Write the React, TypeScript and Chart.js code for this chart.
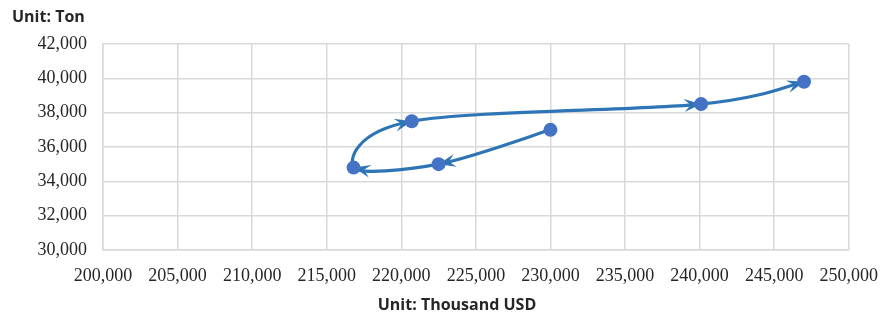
import React, { useEffect, useRef } from "react";
import { Chart, registerables } from "chart.js";

Chart.register(...registerables);

const valuesUSD = [230000, 222500, 216800, 220700, 240100, 247000];
const volumesTon = [37000, 35000, 34800, 37500, 38500, 39800];
const yTitle = "Unit: Ton";
const xTitle = "Unit: Thousand USD";

const LINE = "#2E75B6";
const MARK = "#4472C4";

function bez(a: number, b: number, c: number, d: number, t: number) {
  const u = 1 - t;
  return u * u * u * a + 3 * u * u * t * b + 3 * u * t * t * c + t * t * t * d;
}

const smoothPlugin = {
  id: "excelSmooth",
  beforeDatasetsDraw(chart: any) {
    const meta = chart.getDatasetMeta(0);
    const line = meta.dataset;
    if (line && line.updateControlPoints) {
      line.updateControlPoints(chart.chartArea, meta.iAxis);
    }
    const pts = meta.data;
    const n = pts.length;
    for (let i = 0; i < n; i++) {
      const prev = pts[Math.max(0, i - 1)];
      const next = pts[Math.min(n - 1, i + 1)];
      const tx = (next.x - prev.x) / 6;
      const ty = (next.y - prev.y) / 6;
      pts[i].cp1x = pts[i].x - tx;
      pts[i].cp1y = pts[i].y - ty;
      pts[i].cp2x = pts[i].x + tx;
      pts[i].cp2y = pts[i].y + ty;
    }
    if (line) line._path = undefined;

    // arrowheads
    const ctx = chart.ctx;
    ctx.save();
    ctx.fillStyle = LINE;
    const L = 17;
    const W = 6.5;
    for (let i = 1; i < n; i++) {
      const a = pts[i - 1];
      const p = pts[i];
      let bx0 = a.x;
      let by0 = a.y;
      for (let k = 200; k >= 0; k--) {
        const t = k / 200;
        const x = bez(a.x, a.cp2x, p.cp1x, p.x, t);
        const y = bez(a.y, a.cp2y, p.cp1y, p.y, t);
        if (Math.hypot(p.x - x, p.y - y) >= L) {
          bx0 = x;
          by0 = y;
          break;
        }
      }
      let dx = p.x - bx0;
      let dy = p.y - by0;
      const len = Math.hypot(dx, dy) || 1;
      dx /= len;
      dy /= len;
      const nx = -dy;
      const ny = dx;
      const tipX = p.x;
      const tipY = p.y;
      const bx = tipX - dx * L;
      const by = tipY - dy * L;
      const notchX = tipX - dx * L * 0.62;
      const notchY = tipY - dy * L * 0.62;
      ctx.beginPath();
      ctx.moveTo(tipX, tipY);
      ctx.lineTo(bx + nx * W, by + ny * W);
      ctx.lineTo(notchX, notchY);
      ctx.lineTo(bx - nx * W, by - ny * W);
      ctx.closePath();
      ctx.fill();
    }
    ctx.restore();
  },
  afterDraw(chart: any) {
    const ctx = chart.ctx;
    ctx.save();
    ctx.fillStyle = "#262626";
    ctx.font = "bold 16px 'Open Sans', Roboto, sans-serif";
    ctx.textBaseline = "middle";
    ctx.textAlign = "left";
    ctx.fillText(yTitle, 12, 17);
    ctx.textAlign = "center";
    ctx.fillText(xTitle, 457, 305);
    ctx.restore();
  },
};

export default function App() {
  const ref = useRef<HTMLCanvasElement | null>(null);
  useEffect(() => {
    if (!ref.current) return;
    const data = valuesUSD.map((x, i) => ({ x, y: volumesTon[i] }));
    const chart = new Chart(ref.current, {
      type: "scatter",
      data: {
        datasets: [
          {
            data,
            showLine: true,
            tension: 0.4,
            borderColor: LINE,
            borderWidth: 3.2,
            pointRadius: 7,
            pointHoverRadius: 7,
            pointBackgroundColor: MARK,
            pointBorderColor: MARK,
            pointBorderWidth: 0,
          } as any,
        ],
      },
      options: {
        animation: false,
        responsive: false,
        maintainAspectRatio: false,
        layout: { padding: { top: 44, right: 42, left: 0, bottom: 0 } },
        plugins: { legend: { display: false }, tooltip: { enabled: false }, title: { display: false } },
        scales: {
          x: {
            type: "linear",
            min: 200000,
            max: 250000,
            border: { display: true, color: "#d9d9d9", width: 1.5 },
            grid: { color: "#d9d9d9", lineWidth: 1.5, drawTicks: false },
            ticks: {
              stepSize: 5000,
              padding: 15,
              color: "#262626",
              font: { family: "'Liberation Serif', 'Times New Roman', serif", size: 18 },
              callback: (v: any) => Number(v).toLocaleString("en-US"),
            },
            afterFit: (s: any) => {
              s.height = 69;
            },
          },
          y: {
            type: "linear",
            min: 30000,
            max: 42000,
            border: { display: true, color: "#d9d9d9", width: 1.5 },
            grid: { color: "#d9d9d9", lineWidth: 1.5, drawTicks: false },
            ticks: {
              stepSize: 2000,
              padding: 16,
              color: "#262626",
              font: { family: "'Liberation Serif', 'Times New Roman', serif", size: 18 },
              callback: (v: any) => Number(v).toLocaleString("en-US"),
            },
            afterFit: (s: any) => {
              s.width = 103;
            },
          },
        },
      },
      plugins: [smoothPlugin],
    });
    return () => chart.destroy();
  }, []);
  return (
    <div style={{ position: "fixed", left: 0, top: 0, width: 893, height: 319, background: "#fff" }}>
      <canvas ref={ref} width={893} height={319} style={{ display: "block" }} />
    </div>
  );
}
